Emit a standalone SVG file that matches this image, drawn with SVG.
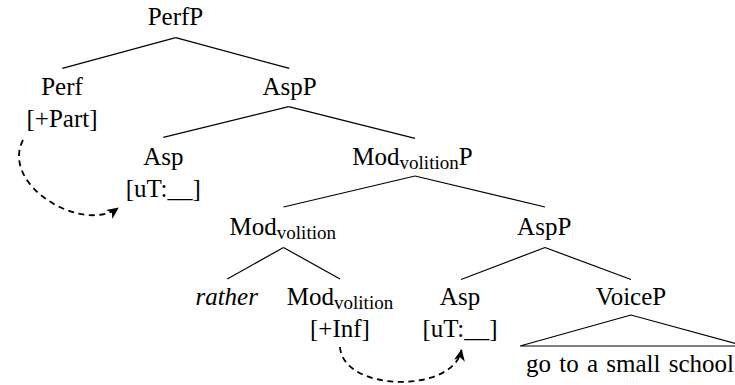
<svg xmlns="http://www.w3.org/2000/svg" width="735" height="385" viewBox="0 0 735 385" font-family="Liberation Serif, serif">
<style>
text{font-size:25px;fill:#000;text-anchor:middle}
.sub{font-size:19px}
.it{font-style:italic}
.e line,.e polygon{stroke:#000;stroke-width:1.2;fill:none}
.mv{fill:none;stroke:#000;stroke-width:1.8;stroke-dasharray:6 4.5}
</style>
<defs>
<marker id="ah" viewBox="0 0 12 11" refX="11" refY="5.5" markerWidth="12" markerHeight="11" markerUnits="userSpaceOnUse" orient="auto">
<path d="M0,0 L12,5.5 L0,11 L3.5,5.5 z" fill="#000"/>
</marker>
</defs>
<g id="edges" class="e">
<line x1="175.7" y1="37.7" x2="62.3" y2="68.3"/>
<line x1="175.7" y1="37.7" x2="289.3" y2="68.3"/>
<line x1="288.7" y1="106.7" x2="163.3" y2="137.3"/>
<line x1="288.7" y1="106.7" x2="415" y2="138.3"/>
<line x1="415" y1="176" x2="283.5" y2="207"/>
<line x1="415" y1="176" x2="545" y2="207"/>
<line x1="283.5" y1="247.5" x2="227.3" y2="279"/>
<line x1="283.5" y1="247.5" x2="340" y2="279"/>
<line x1="545" y1="247.5" x2="461" y2="279.5"/>
<line x1="545" y1="247.5" x2="631" y2="279.5"/>
<polygon points="631,315 520,346 745,346"/>
</g>
<g id="movement">
<path class="mv" d="M23,140 C0,185 82,234 118,208" marker-end="url(#ah)"/>
<path class="mv" d="M340,347 C343,392 453,394 461.5,350" marker-end="url(#ah)"/>
</g>
<g id="n-perfp"><text x="175.5" y="25">PerfP</text></g>
<g id="n-perf"><text x="62" y="94.5">Perf</text><text x="62" y="126.5">[+Part]</text></g>
<g id="n-aspp1"><text x="289.5" y="94.5">AspP</text></g>
<g id="n-asp1"><text x="163.3" y="165">Asp</text><text x="163.3" y="197">[uT:__]</text></g>
<g id="n-modp"><text x="412.5" y="165">Mod<tspan class="sub" dy="4">volition</tspan><tspan dy="-4">P</tspan></text></g>
<g id="n-mod1"><text x="282.8" y="235">Mod<tspan class="sub" dy="4">volition</tspan></text></g>
<g id="n-aspp2"><text x="544.2" y="235">AspP</text></g>
<g id="n-rather"><text class="it" x="226.7" y="305">rather</text></g>
<g id="n-mod2"><text x="340" y="305">Mod<tspan class="sub" dy="4">volition</tspan></text><text x="340" y="337">[+Inf]</text></g>
<g id="n-asp2"><text x="460" y="305">Asp</text><text x="460" y="337">[uT:__]</text></g>
<g id="n-voicep"><text x="631" y="305">VoiceP</text></g>
<g id="n-phrase"><text x="526" y="371.5" style="text-anchor:start;word-spacing:2px">go to a small school</text></g>
</svg>
